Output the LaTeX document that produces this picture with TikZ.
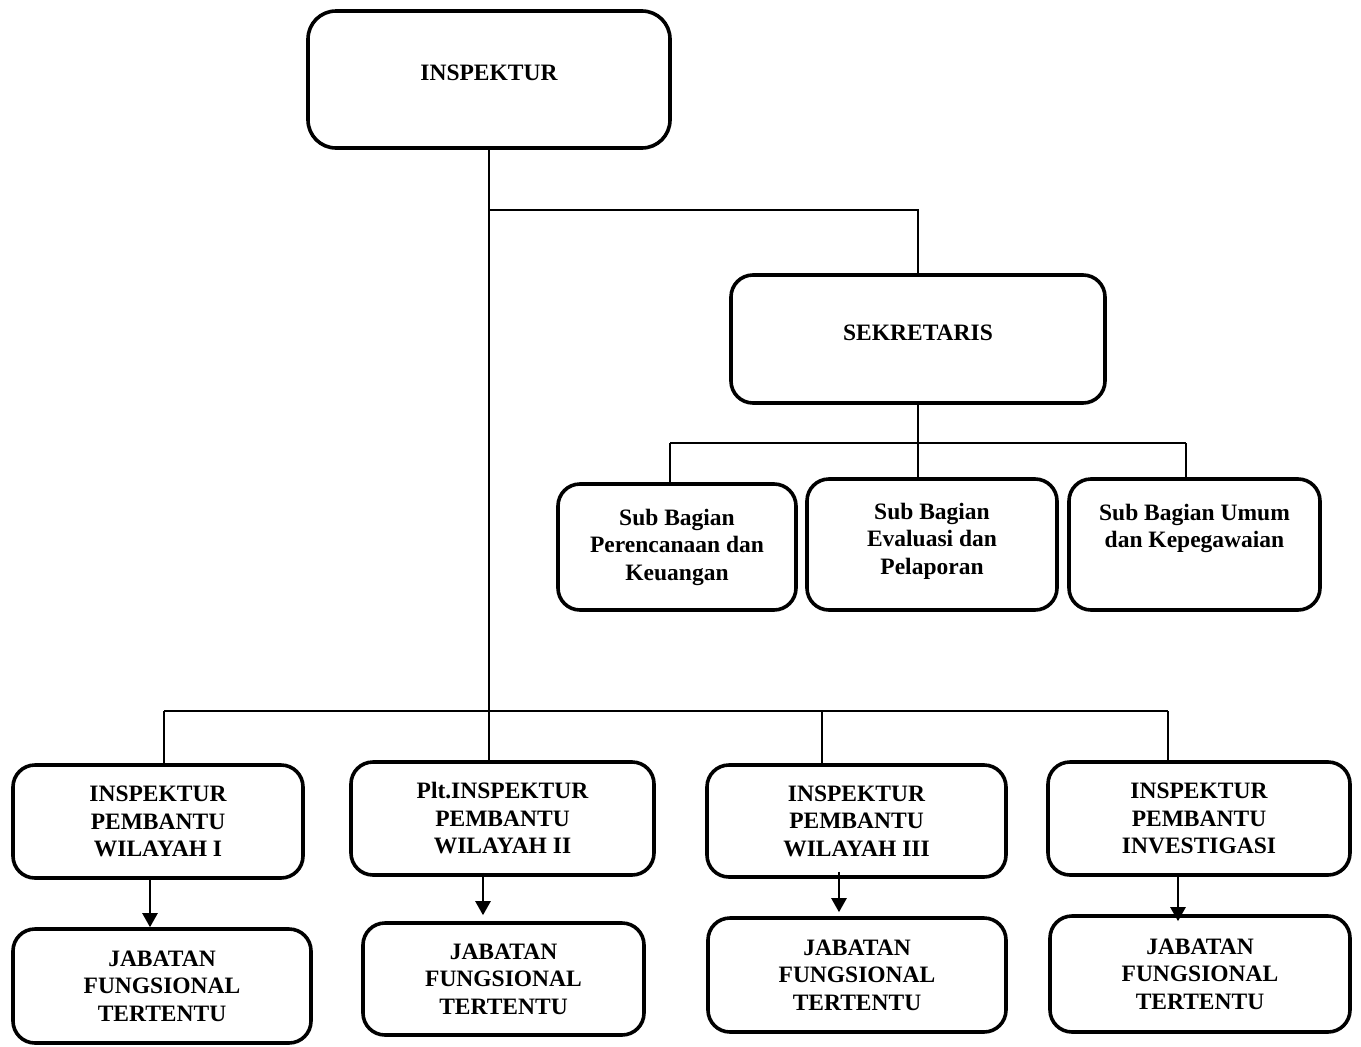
\documentclass[tikz,border=0pt]{standalone}
\usepackage{fontspec}
\setmainfont{Liberation Serif}
\usetikzlibrary{arrows.meta}
\begin{document}
\begin{tikzpicture}[
    x=1pt, y=-1pt,
    box/.style={draw, line width=3.6pt, rounded corners=22pt, align=center,
      inner sep=0pt, font=\bfseries\fontsize{23.5}{27.5}\selectfont},
    conn/.style={line width=1.4pt},
    arr/.style={line width=2.4pt, -{Triangle[width=15pt,length=14pt]}}
  ]
  \useasboundingbox (0,0) rectangle (1361,1047);

  % Pimpinan dan sekretariat
  \node[box, rounded corners=28pt, minimum width=362pt, minimum height=137pt, text depth=13pt] (insp) at (489,79.5) {INSPEKTUR};
  \node[box, minimum width=374pt, minimum height=128pt, text depth=12pt] (sek) at (918,339) {SEKRETARIS};
  \node[box, minimum width=238pt, minimum height=126pt] (sb1) at (677,547) {Sub Bagian\\Perencanaan dan\\Keuangan};
  \node[box, minimum width=250pt, minimum height=131pt, text depth=12pt] (sb2) at (932,544.5) {Sub Bagian\\Evaluasi dan\\Pelaporan};
  \node[box, minimum width=251pt, minimum height=131pt, text depth=37pt] (sb3) at (1194.5,544.5) {Sub Bagian Umum\\dan Kepegawaian};

  % Inspektur pembantu
  \node[box, minimum width=290pt, minimum height=113pt] (ip1) at (158,821.5) {INSPEKTUR\\PEMBANTU\\WILAYAH I};
  \node[box, minimum width=303pt, minimum height=113pt] (ip2) at (502.5,818.5) {Plt.INSPEKTUR\\PEMBANTU\\WILAYAH II};
  \node[box, minimum width=299pt, minimum height=112pt] (ip3) at (856.5,821) {INSPEKTUR\\PEMBANTU\\WILAYAH III};
  \node[box, minimum width=302pt, minimum height=113pt] (ip4) at (1199,818.5) {INSPEKTUR\\PEMBANTU\\INVESTIGASI};

  % Jabatan fungsional
  \node[box, minimum width=298pt, minimum height=114pt] (jf1) at (162,986) {JABATAN\\FUNGSIONAL\\TERTENTU};
  \node[box, minimum width=281pt, minimum height=112pt] (jf2) at (503.5,979) {JABATAN\\FUNGSIONAL\\TERTENTU};
  \node[box, minimum width=298pt, minimum height=114pt] (jf3) at (857,975) {JABATAN\\FUNGSIONAL\\TERTENTU};
  \node[box, minimum width=300pt, minimum height=116pt] (jf4) at (1200,974) {JABATAN\\FUNGSIONAL\\TERTENTU};

  % Garis komando
  \coordinate (s1) at (670,443);
  \coordinate (s3) at (1186,443);
  \coordinate (d1) at (164,711);
  \coordinate (d3) at (822,711);
  \coordinate (d4) at (1168,711);

  \draw[conn] (insp.south) -- ++(0,60) -| (sek.north);
  \draw[conn] (insp.south) -- (insp.south |- ip2.north);
  \draw[conn] (sek.south) -- (sek.south |- sb2.north);
  \draw[conn] (s1) -- (s3);
  \draw[conn] (s1) -- (s1 |- sb1.north);
  \draw[conn] (s3) -- (s3 |- sb3.north);
  \draw[conn] (d1) -- (d4);
  \draw[conn] (d1) -- (d1 |- ip1.north);
  \draw[conn] (d3) -- (d3 |- ip3.north);
  \draw[conn] (d4) -- (d4 |- ip4.north);

  % Panah ke jabatan fungsional
  \draw[arr] ([xshift=-8pt]ip1.south) -- ([xshift=-8pt]ip1.south |- jf1.north);
  \draw[arr, shorten >=6pt] ([xshift=-19.5pt,yshift=4pt]ip2.south) -- ([xshift=-19.5pt]ip2.south |- jf2.north);
  \draw[arr, shorten >=4pt] ([xshift=-17.5pt,yshift=7pt]ip3.south) -- ([xshift=-17.5pt]ip3.south |- jf3.north);
  \draw[arr, shorten >=-7pt] ([xshift=-21pt]ip4.south) -- ([xshift=-21pt]ip4.south |- jf4.north);
\end{tikzpicture}
\end{document}
